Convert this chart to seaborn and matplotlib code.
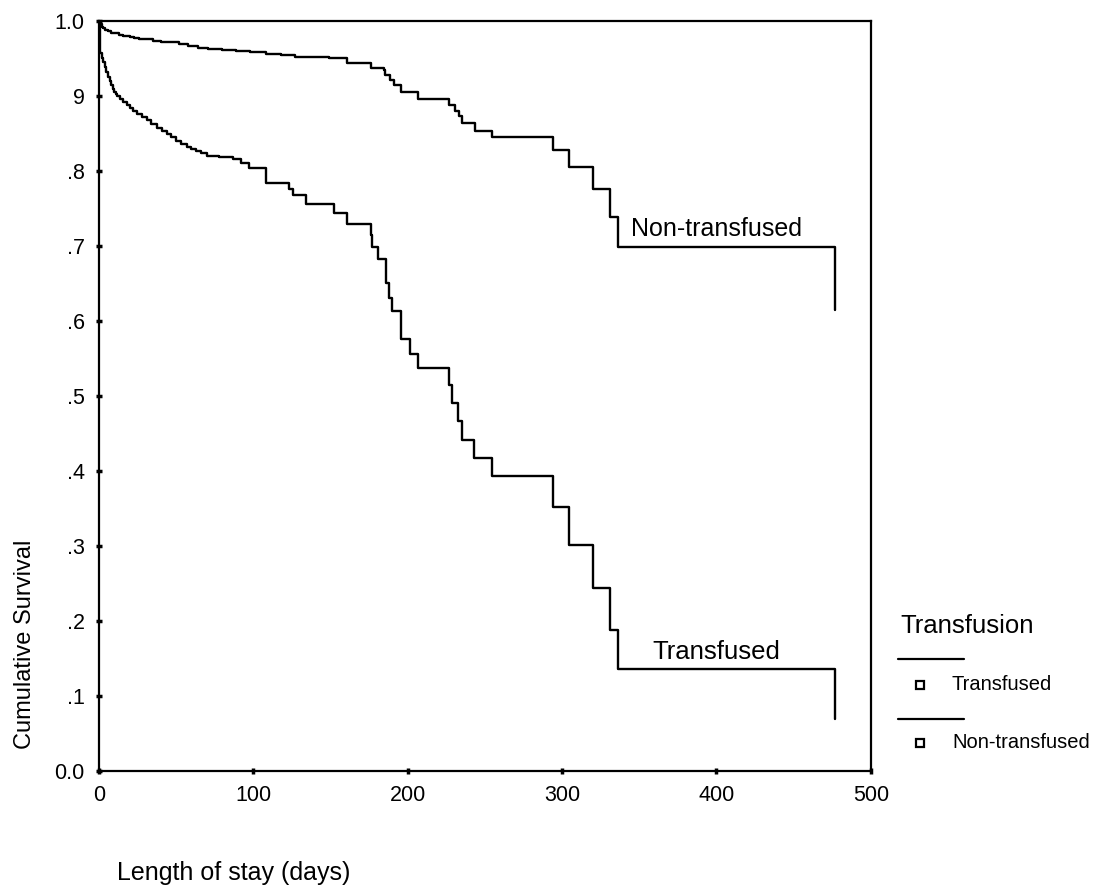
import numpy as np
import pandas as pd
import matplotlib
matplotlib.use("Agg")
import matplotlib.pyplot as plt
from matplotlib.lines import Line2D
import seaborn as sns

# Kaplan-Meier estimates: event day and survival after that event
transfused_days = [0, 1, 2, 3, 4, 5, 6, 7, 8, 9, 10, 11, 12, 14, 16, 18, 20, 22, 25, 28,
                   31, 34, 38, 41, 44, 47, 50, 53, 57, 60, 63, 66, 70, 78, 87, 92, 97,
                   108, 123, 126, 134, 152.5, 161, 176, 177, 181, 186, 188, 190, 195.5,
                   201.5, 207, 227, 229, 232.5, 235, 243, 254.5, 294, 304.5, 320, 331,
                   336, 477]
transfused_surv = [1.0, 0.957, 0.950, 0.945, 0.938, 0.931, 0.925, 0.920, 0.914, 0.909,
                   0.905, 0.902, 0.899, 0.895, 0.891, 0.888, 0.884, 0.880, 0.876, 0.872,
                   0.867, 0.862, 0.857, 0.853, 0.849, 0.845, 0.840, 0.836, 0.832, 0.829,
                   0.826, 0.823, 0.820, 0.818, 0.815, 0.810, 0.803, 0.783, 0.775, 0.768,
                   0.756, 0.744, 0.729, 0.715, 0.699, 0.683, 0.651, 0.631, 0.613, 0.576,
                   0.556, 0.537, 0.514, 0.491, 0.467, 0.442, 0.417, 0.393, 0.352, 0.302,
                   0.244, 0.188, 0.137, 0.070]

nontransfused_days = [0, 1, 2, 3, 4, 6, 8, 10, 13, 16, 20, 23, 26, 30, 35, 40, 46, 52,
                      58, 64, 71, 80, 89, 98, 108, 118, 127, 138, 149, 161, 176, 184.5,
                      185.5, 188.5, 191, 195.5, 207, 227, 230.5, 233.5, 235, 243.5, 255,
                      294, 304.5, 320, 331, 336, 477]
nontransfused_surv = [1.0, 0.995, 0.992, 0.990, 0.988, 0.986, 0.984, 0.983, 0.981, 0.980,
                      0.978, 0.977, 0.976, 0.975, 0.973, 0.972, 0.971, 0.969, 0.966, 0.964,
                      0.962, 0.961, 0.960, 0.958, 0.956, 0.954, 0.952, 0.951, 0.950, 0.943,
                      0.937, 0.934, 0.928, 0.921, 0.914, 0.905, 0.895, 0.887, 0.880, 0.873,
                      0.864, 0.853, 0.845, 0.827, 0.805, 0.775, 0.739, 0.699, 0.615]

groups = ["Transfused", "Non-transfused"]
x_ticks = [0, 100, 200, 300, 400, 500]
y_ticks = [0.0, 0.1, 0.2, 0.3, 0.4, 0.5, 0.6, 0.7, 0.8, 0.9, 1.0]
y_tick_labels = ["0.0", ".1", ".2", ".3", ".4", ".5", ".6", ".7", ".8", "9", "1.0"]

df = pd.concat([
    pd.DataFrame({"day": transfused_days, "survival": transfused_surv, "group": groups[0]}),
    pd.DataFrame({"day": nontransfused_days, "survival": nontransfused_surv, "group": groups[1]}),
], ignore_index=True)

sns.set_theme(style="white")
plt.rcParams["font.family"] = ["Liberation Sans", "DejaVu Sans"]

fig = plt.figure(figsize=(11.01, 8.92), dpi=100)
ax = fig.add_axes([0.0897, 0.1351, 0.7012, 0.8419])

sns.lineplot(data=df, x="day", y="survival", hue="group", hue_order=groups,
             palette={groups[0]: "black", groups[1]: "black"},
             estimator=None, sort=True, drawstyle="steps-post",
             linewidth=1.7, legend=False, ax=ax)

ax.set_xlim(0, 500)
ax.set_ylim(0, 1.0)
ax.set_xticks(x_ticks)
ax.set_xticklabels([str(t) for t in x_ticks])
ax.set_yticks(y_ticks)
ax.set_yticklabels(y_tick_labels)
ax.set_xlabel("")
ax.set_ylabel("")
for s in ax.spines.values():
    s.set_visible(True)
    s.set_color("black")
    s.set_linewidth(1.6)
ax.tick_params(axis="both", which="major", direction="inout", length=4, width=2.5,
               color="black", labelsize=15.5, labelcolor="black", pad=8,
               left=True, bottom=True)

# Hand-written curve annotations
ax.text(400, 0.706, "Non-transfused", fontsize=18, ha="center", va="bottom", color="black")
ax.text(400, 0.143, "Transfused", fontsize=18.5, ha="center", va="bottom", color="black")

# Axis titles
fig.text(25 / 1101, 1 - 644 / 892, "Cumulative Survival", rotation=90,
         ha="center", va="center", fontsize=17, color="black")
fig.text(117 / 1101, 1 - 880 / 892, "Length of stay (days)", ha="left", va="baseline",
         fontsize=18, color="black")

# Legend block
fig.text(900 / 1101, 1 - 633 / 892, "Transfusion", ha="left", va="baseline",
         fontsize=18.5, color="black")
for i, label in enumerate(groups):
    line_y = 1 - (659 + 60 * i) / 892
    mark_y = 1 - (685 + 58 * i) / 892
    fig.add_artist(Line2D([898 / 1101, 964 / 1101], [line_y, line_y],
                          color="black", linewidth=1.6))
    fig.add_artist(Line2D([920 / 1101], [mark_y], marker="s", markersize=6,
                          markerfacecolor="white", markeredgecolor="black",
                          markeredgewidth=1.6, linestyle="none"))
    fig.text(952 / 1101, mark_y, label, ha="left", va="center", fontsize=14.5,
             color="black")

fig.savefig("out.png", dpi=100, facecolor="white")
